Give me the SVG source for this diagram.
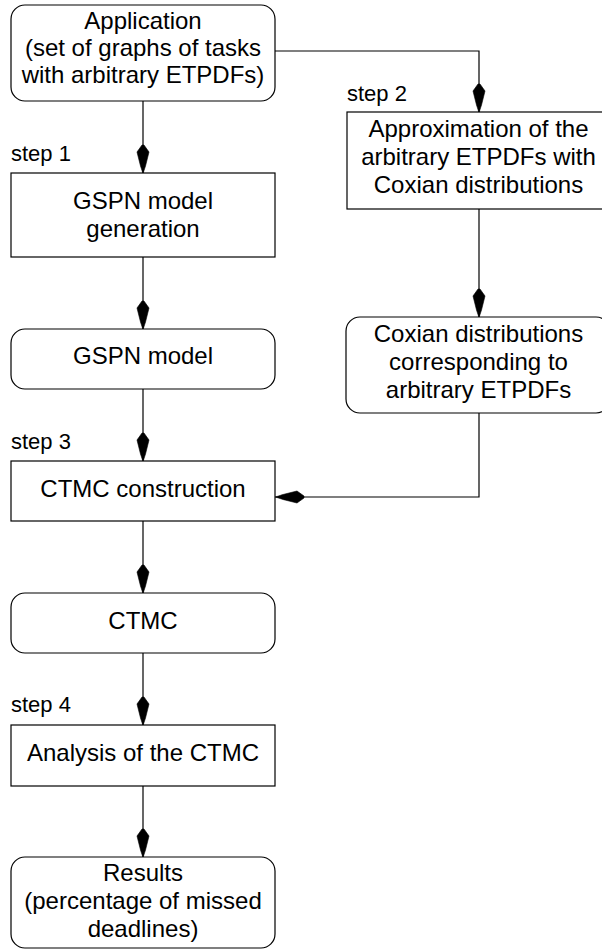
<svg xmlns="http://www.w3.org/2000/svg" xmlns:xlink="http://www.w3.org/1999/xlink" width="602" height="949" viewBox="0 0 602 949">
  <style>
    .box { fill: #ffffff; stroke: #000000; stroke-width: 1.2; }
    .lbl { font-family: "Liberation Sans", Arial, sans-serif; font-size: 24px; fill: #000000; text-anchor: middle; }
    .step { font-family: "Liberation Sans", Arial, sans-serif; font-size: 22px; fill: #000000; }
    .wire { fill: none; stroke: #000000; stroke-width: 1.2; }
    .tip { fill: #000000; stroke: #000000; stroke-width: 0.6; stroke-linejoin: miter; }
  </style>
  <defs>
    <!-- kite-shaped arrowhead pointing down, tip at the origin -->
    <path id="arrowhead" d="M0,0.5 L-2.5,-7 L-6,-21 L-1,-28 L1,-28 L6,-21 L2.5,-7 Z"/>
  </defs>
  <rect width="602" height="949" fill="#ffffff"/>

  <!-- flow connectors -->
  <g id="connectors">
    <path class="wire" d="M143,101 V173"/>
    <path class="wire" d="M275,51 H479 V112"/>
    <path class="wire" d="M479,209 V317"/>
    <path class="wire" d="M143,257 V329"/>
    <path class="wire" d="M143,389 V461"/>
    <path class="wire" d="M479,413 V497 H275"/>
    <path class="wire" d="M143,521 V593"/>
    <path class="wire" d="M143,653 V725"/>
    <path class="wire" d="M143,786 V857"/>
    <use class="tip" xlink:href="#arrowhead" href="#arrowhead" transform="translate(143,173)"/>
    <use class="tip" xlink:href="#arrowhead" href="#arrowhead" transform="translate(479,112)"/>
    <use class="tip" xlink:href="#arrowhead" href="#arrowhead" transform="translate(479,317)"/>
    <use class="tip" xlink:href="#arrowhead" href="#arrowhead" transform="translate(143,329)"/>
    <use class="tip" xlink:href="#arrowhead" href="#arrowhead" transform="translate(143,461)"/>
    <use class="tip" xlink:href="#arrowhead" href="#arrowhead" transform="translate(276,497) rotate(90)"/>
    <use class="tip" xlink:href="#arrowhead" href="#arrowhead" transform="translate(143,593)"/>
    <use class="tip" xlink:href="#arrowhead" href="#arrowhead" transform="translate(143,725)"/>
    <use class="tip" xlink:href="#arrowhead" href="#arrowhead" transform="translate(143,857)"/>
  </g>

  <!-- step captions -->
  <g id="steps">
    <text class="step" x="11" y="161">step 1</text>
    <text class="step" x="347" y="101">step 2</text>
    <text class="step" x="11" y="449">step 3</text>
    <text class="step" x="11" y="712">step 4</text>
  </g>

  <g id="application">
    <rect class="box" x="11" y="5" width="264" height="96" rx="14"/>
    <text class="lbl" x="143" y="29">Application</text>
    <text class="lbl" x="143" y="56">(set of graphs of tasks</text>
    <text class="lbl" x="143" y="83">with arbitrary ETPDFs)</text>
  </g>

  <g id="gspn-generation">
    <rect class="box" x="11" y="173" width="264" height="84"/>
    <text class="lbl" x="143" y="209">GSPN model</text>
    <text class="lbl" x="143" y="237">generation</text>
  </g>

  <g id="gspn-model">
    <rect class="box" x="11" y="329" width="264" height="60" rx="14"/>
    <text class="lbl" x="143" y="364">GSPN model</text>
  </g>

  <g id="approximation">
    <rect class="box" x="347" y="112" width="263" height="97"/>
    <text class="lbl" x="478.5" y="137">Approximation of the</text>
    <text class="lbl" x="478.5" y="165">arbitrary ETPDFs with</text>
    <text class="lbl" x="478.5" y="193">Coxian distributions</text>
  </g>

  <g id="coxian">
    <rect class="box" x="346" y="317" width="264" height="96" rx="14"/>
    <text class="lbl" x="478.5" y="342">Coxian distributions</text>
    <text class="lbl" x="478.5" y="370">corresponding to</text>
    <text class="lbl" x="478.5" y="398">arbitrary ETPDFs</text>
  </g>

  <g id="ctmc-construction">
    <rect class="box" x="11" y="461" width="264" height="60"/>
    <text class="lbl" x="143" y="497">CTMC construction</text>
  </g>

  <g id="ctmc">
    <rect class="box" x="11" y="593" width="264" height="60" rx="14"/>
    <text class="lbl" x="143" y="629">CTMC</text>
  </g>

  <g id="analysis">
    <rect class="box" x="11" y="725" width="264" height="61"/>
    <text class="lbl" x="143" y="761">Analysis of the CTMC</text>
  </g>

  <g id="results">
    <rect class="box" x="11" y="857" width="264" height="91" rx="14"/>
    <text class="lbl" x="143" y="881">Results</text>
    <text class="lbl" x="143" y="909">(percentage of missed</text>
    <text class="lbl" x="143" y="937">deadlines)</text>
  </g>
</svg>
